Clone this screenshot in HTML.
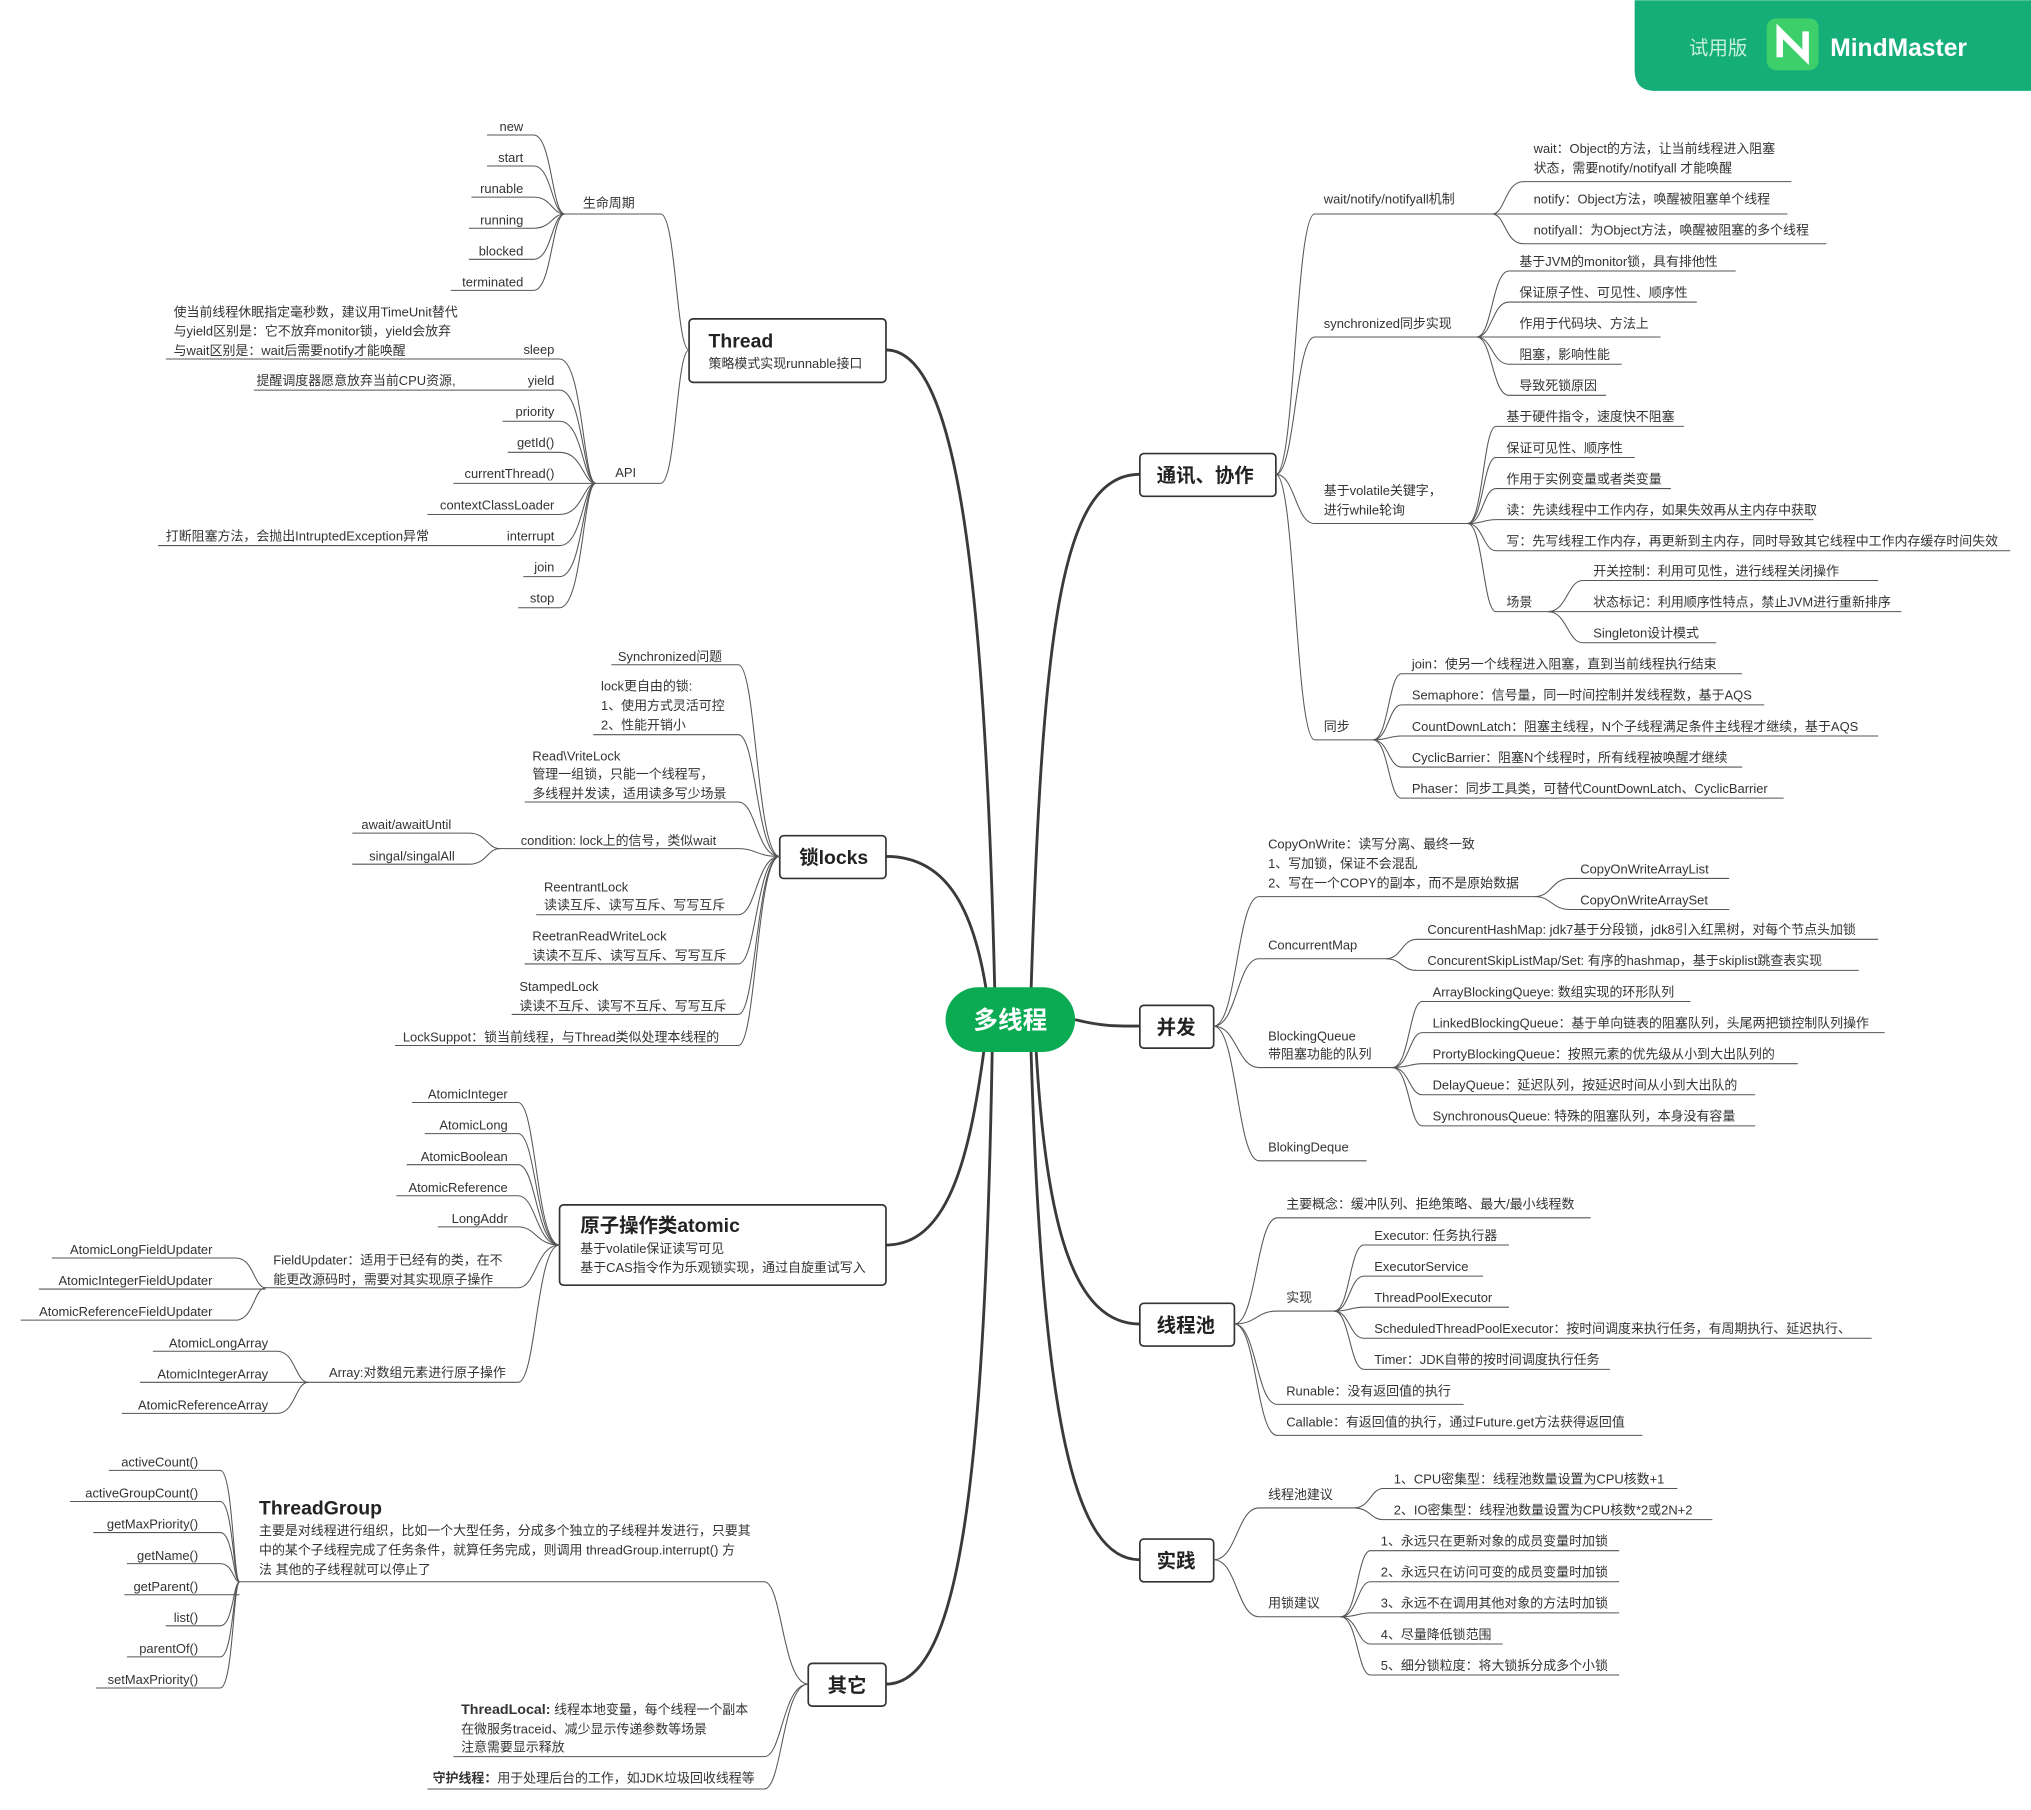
<!DOCTYPE html>
<html><head><meta charset="utf-8"><style>
html,body{margin:0;padding:0;background:#fff;}
svg{display:block;}
text{font-family:"Liberation Sans","Noto Sans CJK SC",sans-serif;font-size:10px;fill:#333;}
.l{fill:none;stroke:#555;stroke-width:0.8;}
.m{fill:none;stroke:#3a3a3a;stroke-width:2.2;}
.b{fill:#fff;stroke:#333;stroke-width:1.3;}
.t{font-size:15px;font-weight:bold;fill:#222;}
.e{text-anchor:end;}
</style></head><body>
<svg width="2031" height="1810" viewBox="0 0 1568 1397" xmlns="http://www.w3.org/2000/svg">
<!-- badge -->
<path d="M1262 0 H1568 V70 H1278 Q1262 70 1262 54 Z" fill="#16ae78"/>
<text x="1304" y="42" style="font-size:15px;fill:#c8efdf">试用版</text>
<rect x="1364" y="14" width="40" height="40" rx="7" fill="#3ccf6a"/>
<path d="M1374 44 V24 L1394 44 V24" fill="none" stroke="#fff" stroke-width="5"/>
<text x="1413" y="43" style="font-size:19px;font-weight:bold;fill:#fff">MindMaster</text>

<!-- main connectors -->
<path class="m" d="M768 765 C760 420 735 270 684 270"/>
<path class="m" d="M762 768 C752 700 730 661 684 661"/>
<path class="m" d="M760 808 C748 900 730 961 684 961"/>
<path class="m" d="M766 812 C760 1150 740 1300 684 1300"/>
<path class="m" d="M796 765 C805 480 820 366 880 366"/>
<path class="m" d="M830 787 C850 792 860 792 880 792"/>
<path class="m" d="M800 812 C808 950 830 1022 880 1022"/>
<path class="m" d="M796 812 C805 1100 830 1204 880 1204"/>

<rect x="730" y="762" width="100" height="50" rx="25" fill="#0aab52"/>
<text x="780" y="794" text-anchor="middle" style="font-size:19px;font-weight:bold;fill:#fff">多线程</text>

<!-- main boxes -->
<rect class="b" x="532" y="246" width="152" height="49" rx="3"/>
<text class="t" x="547" y="268">Thread</text><text x="547" y="284">策略模式实现runnable接口</text>
<rect class="b" x="602" y="645" width="82" height="33" rx="3"/>
<text class="t" x="617" y="667">锁locks</text>
<rect class="b" x="432" y="930" width="252" height="62" rx="3"/>
<text class="t" x="448" y="951">原子操作类atomic</text><text x="448" y="967">基于volatile保证读写可见</text><text x="448" y="982">基于CAS指令作为乐观锁实现，通过自旋重试写入</text>
<rect class="b" x="624" y="1284" width="60" height="33" rx="3"/>
<text class="t" x="639" y="1306">其它</text>
<rect class="b" x="880" y="350" width="105" height="33" rx="3"/>
<text class="t" x="893" y="372">通讯、协作</text>
<rect class="b" x="880" y="776" width="57" height="33" rx="3"/>
<text class="t" x="893" y="798">并发</text>
<rect class="b" x="880" y="1006" width="73" height="33" rx="3"/>
<text class="t" x="893" y="1028">线程池</text>
<rect class="b" x="880" y="1188" width="57" height="33" rx="3"/>
<text class="t" x="893" y="1210">实践</text>

<!-- Thread -->
<path class="l" d="M436 165 H510 C522 165 522 270 532 270"/>
<text x="450" y="160">生命周期</text>
<path class="l" d="M460 373 H510 C522 373 522 270 532 270"/>
<text x="475" y="368">API</text>
<g class="l">
<path d="M376 104 H412 C426 104 426 165 436 165"/><path d="M376 128 H412 C426 128 426 165 436 165"/>
<path d="M364 152 H412 C426 152 426 165 436 165"/><path d="M362 176 H412 C426 176 426 165 436 165"/>
<path d="M362 200 H412 C426 200 426 165 436 165"/><path d="M348 224 H412 C426 224 426 165 436 165"/>
<path d="M128 277 H432 C450 277 450 373 460 373"/><path d="M196 301 H432 C450 301 450 373 460 373"/>
<path d="M388 325 H432 C450 325 450 373 460 373"/><path d="M392 349 H432 C450 349 450 373 460 373"/>
<path d="M350 373 H460"/><path d="M330 397 H432 C450 397 450 373 460 373"/>
<path d="M122 421 H432 C450 421 450 373 460 373"/><path d="M404 445 H432 C450 445 450 373 460 373"/>
<path d="M400 469 H432 C450 469 450 373 460 373"/>
</g>
<text class="e" x="404" y="101">new</text><text class="e" x="404" y="125">start</text><text class="e" x="404" y="149">runable</text>
<text class="e" x="404" y="173">running</text><text class="e" x="404" y="197">blocked</text><text class="e" x="404" y="221">terminated</text>
<text x="134" y="244">使当前线程休眠指定毫秒数，建议用TimeUnit替代</text>
<text x="134" y="259">与yield区别是：它不放弃monitor锁，yield会放弃</text>
<text x="134" y="274">与wait区别是：wait后需要notify才能唤醒</text>
<text class="e" x="428" y="273">sleep</text>
<text x="198" y="297">提醒调度器愿意放弃当前CPU资源,</text><text class="e" x="428" y="297">yield</text>
<text class="e" x="428" y="321">priority</text><text class="e" x="428" y="345">getId()</text><text class="e" x="428" y="369">currentThread()</text>
<text class="e" x="428" y="393">contextClassLoader</text>
<text x="128" y="417">打断阻塞方法，会抛出IntruptedException异常</text><text class="e" x="428" y="417">interrupt</text>
<text class="e" x="428" y="441">join</text><text class="e" x="428" y="465">stop</text>

<!-- locks -->
<g class="l">
<path d="M472 513 H570 C584 513 584 661 602 661"/><path d="M458 567 H570 C584 567 584 661 602 661"/>
<path d="M405 619 H570 C584 619 584 661 602 661"/><path d="M386 655 H570 C584 655 584 661 602 661"/>
<path d="M414 706 H570 C584 706 584 661 602 661"/><path d="M405 744 H570 C584 744 584 661 602 661"/>
<path d="M395 783 H570 C584 783 584 661 602 661"/><path d="M305 807 H570 C584 807 584 661 602 661"/>
<path d="M272 643 H362 C376 643 376 655 386 655"/><path d="M272 667 H362 C376 667 376 655 386 655"/>
</g>
<text x="477" y="510">Synchronized问题</text>
<text x="464" y="533">lock更自由的锁:</text><text x="464" y="548">1、使用方式灵活可控</text><text x="464" y="563">2、性能开销小</text>
<text x="411" y="587">Read\VriteLock</text><text x="411" y="601">管理一组锁，只能一个线程写，</text><text x="411" y="616">多线程并发读，适用读多写少场景</text>
<text x="402" y="652">condition: lock上的信号，类似wait</text>
<text x="279" y="640">await/awaitUntil</text><text x="285" y="664">singal/singalAll</text>
<text x="420" y="688">ReentrantLock</text><text x="420" y="702">读读互斥、读写互斥、写写互斥</text>
<text x="411" y="726">ReetranReadWriteLock</text><text x="411" y="741">读读不互斥、读写互斥、写写互斥</text>
<text x="401" y="765">StampedLock</text><text x="401" y="780">读读不互斥、读写不互斥、写写互斥</text>
<text x="311" y="804">LockSuppot：锁当前线程，与Thread类似处理本线程的</text>

<!-- atomic -->
<g class="l">
<path d="M318 851 H400 C414 851 414 961 432 961"/><path d="M328 875 H400 C414 875 414 961 432 961"/>
<path d="M314 899 H400 C414 899 414 961 432 961"/><path d="M306 923 H400 C414 923 414 961 432 961"/>
<path d="M338 947 H400 C414 947 414 961 432 961"/><path d="M205 994 H400 C414 994 414 961 432 961"/>
<path d="M238 1067 H400 C414 1067 414 961 432 961"/>
<path d="M40 971 H182 C196 971 196 994 205 994"/><path d="M30 995 H205"/><path d="M16 1019 H182 C196 1019 196 994 205 994"/>
<path d="M118 1043 H214 C228 1043 228 1067 238 1067"/><path d="M108 1067 H238"/><path d="M94 1091 H214 C228 1091 228 1067 238 1067"/>
</g>
<text class="e" x="392" y="848">AtomicInteger</text><text class="e" x="392" y="872">AtomicLong</text><text class="e" x="392" y="896">AtomicBoolean</text>
<text class="e" x="392" y="920">AtomicReference</text><text class="e" x="392" y="944">LongAddr</text>
<text x="211" y="976">FieldUpdater：适用于已经有的类，在不</text><text x="211" y="991">能更改源码时，需要对其实现原子操作</text>
<text class="e" x="164" y="968">AtomicLongFieldUpdater</text><text class="e" x="164" y="992">AtomicIntegerFieldUpdater</text><text class="e" x="164" y="1016">AtomicReferenceFieldUpdater</text>
<text x="254" y="1063">Array:对数组元素进行原子操作</text>
<text class="e" x="207" y="1040">AtomicLongArray</text><text class="e" x="207" y="1064">AtomicIntegerArray</text><text class="e" x="207" y="1088">AtomicReferenceArray</text>

<!-- other -->
<g class="l">
<path d="M185 1221 H590 C604 1221 604 1300 624 1300"/>
<path d="M350 1356 H590 C604 1356 604 1300 624 1300"/>
<path d="M330 1381 H590 C604 1381 604 1300 624 1300"/>
<path d="M84 1135 H170 C180 1135 180 1221 185 1221"/><path d="M54 1159 H170 C180 1159 180 1221 185 1221"/>
<path d="M72 1183 H170 C180 1183 180 1221 185 1221"/><path d="M98 1207 H170 C180 1207 180 1221 185 1221"/>
<path d="M96 1231 H185"/><path d="M128 1255 H170 C180 1255 180 1221 185 1221"/>
<path d="M98 1279 H170 C180 1279 180 1221 185 1221"/><path d="M74 1303 H170 C180 1303 180 1221 185 1221"/>
</g>
<text class="e" x="153" y="1132">activeCount()</text><text class="e" x="153" y="1156">activeGroupCount()</text>
<text class="e" x="153" y="1180">getMaxPriority()</text><text class="e" x="153" y="1204">getName()</text>
<text class="e" x="153" y="1228">getParent()</text><text class="e" x="153" y="1252">list()</text>
<text class="e" x="153" y="1276">parentOf()</text><text class="e" x="153" y="1300">setMaxPriority()</text>
<text class="t" x="200" y="1169">ThreadGroup</text>
<text x="200" y="1185">主要是对线程进行组织，比如一个大型任务，分成多个独立的子线程并发进行，只要其</text>
<text x="200" y="1200">中的某个子线程完成了任务条件，就算任务完成，则调用 threadGroup.interrupt() 方</text>
<text x="200" y="1215">法 其他的子线程就可以停止了</text>
<text x="356" y="1323"><tspan style="font-weight:bold;font-size:11px">ThreadLocal:</tspan> 线程本地变量，每个线程一个副本</text>
<text x="356" y="1338">在微服务traceid、减少显示传递参数等场景</text>
<text x="356" y="1352">注意需要显示释放</text>
<text x="334" y="1376"><tspan style="font-weight:bold">守护线程：</tspan>用于处理后台的工作，如JDK垃圾回收线程等</text>

<!-- 通讯、协作 -->
<g class="l">
<path d="M985 366 C1000 366 1000 165 1015 165 H1152"/>
<path d="M985 366 C1000 366 1000 260 1015 260 H1140"/>
<path d="M985 366 C1000 366 1000 404 1015 404 H1133"/>
<path d="M985 366 C1000 366 1000 571 1015 571 H1060"/>
<path d="M1152 165 C1162 165 1162 140 1176 140 H1383"/><path d="M1152 165 H1380"/>
<path d="M1152 165 C1162 165 1162 188 1176 188 H1410"/>
<path d="M1140 260 C1152 260 1152 209 1165 209 H1340"/><path d="M1140 260 C1152 260 1152 233 1165 233 H1310"/>
<path d="M1140 260 H1282"/><path d="M1140 260 C1152 260 1152 281 1165 281 H1252"/>
<path d="M1140 260 C1152 260 1152 305 1165 305 H1240"/>
<path d="M1133 404 C1145 404 1145 329 1155 329 H1300"/><path d="M1133 404 C1145 404 1145 353 1155 353 H1262"/>
<path d="M1133 404 C1145 404 1145 377 1155 377 H1290"/><path d="M1133 404 C1145 404 1145 401 1155 401 H1400"/>
<path d="M1133 404 C1145 404 1145 425 1155 425 H1552"/><path d="M1133 404 C1145 404 1145 472 1155 472 H1195"/>
<path d="M1195 472 C1210 472 1210 448 1222 448 H1450"/><path d="M1195 472 H1468"/>
<path d="M1195 472 C1210 472 1210 496 1222 496 H1325"/>
<path d="M1060 571 C1072 571 1072 520 1082 520 H1345"/><path d="M1060 571 C1072 571 1072 544 1082 544 H1362"/>
<path d="M1060 571 C1072 571 1072 568 1082 568 H1450"/><path d="M1060 571 C1072 571 1072 592 1082 592 H1345"/>
<path d="M1060 571 C1072 571 1072 616 1082 616 H1377"/>
</g>
<text x="1022" y="157">wait/notify/notifyall机制</text>
<text x="1184" y="118">wait：Object的方法，让当前线程进入阻塞</text><text x="1184" y="133">状态，需要notify/notifyall 才能唤醒</text>
<text x="1184" y="157">notify：Object方法，唤醒被阻塞单个线程</text>
<text x="1184" y="181">notifyall：为Object方法，唤醒被阻塞的多个线程</text>
<text x="1022" y="253">synchronized同步实现</text>
<text x="1173" y="205">基于JVM的monitor锁，具有排他性</text><text x="1173" y="229">保证原子性、可见性、顺序性</text>
<text x="1173" y="253">作用于代码块、方法上</text><text x="1173" y="277">阻塞，影响性能</text><text x="1173" y="301">导致死锁原因</text>
<text x="1022" y="382">基于volatile关键字，</text><text x="1022" y="397">进行while轮询</text>
<text x="1163" y="325">基于硬件指令，速度快不阻塞</text><text x="1163" y="349">保证可见性、顺序性</text>
<text x="1163" y="373">作用于实例变量或者类变量</text><text x="1163" y="397">读：先读线程中工作内存，如果失效再从主内存中获取</text>
<text x="1163" y="421">写：先写线程工作内存，再更新到主内存，同时导致其它线程中工作内存缓存时间失效</text>
<text x="1163" y="468">场景</text>
<text x="1230" y="444">开关控制：利用可见性，进行线程关闭操作</text><text x="1230" y="468">状态标记：利用顺序性特点，禁止JVM进行重新排序</text>
<text x="1230" y="492">Singleton设计模式</text>
<text x="1022" y="564">同步</text>
<text x="1090" y="516">join：使另一个线程进入阻塞，直到当前线程执行结束</text>
<text x="1090" y="540">Semaphore：信号量，同一时间控制并发线程数，基于AQS</text>
<text x="1090" y="564">CountDownLatch：阻塞主线程，N个子线程满足条件主线程才继续，基于AQS</text>
<text x="1090" y="588">CyclicBarrier：阻塞N个线程时，所有线程被唤醒才继续</text>
<text x="1090" y="612">Phaser：同步工具类，可替代CountDownLatch、CyclicBarrier</text>

<!-- 并发 -->
<g class="l">
<path d="M937 792 C955 792 955 692 972 692 H1185"/><path d="M937 792 C955 792 955 740 972 740 H1070"/>
<path d="M937 792 C955 792 955 824 972 824 H1075"/><path d="M937 792 C955 792 955 896 972 896 H1055"/>
<path d="M1185 692 C1198 692 1198 678 1212 678 H1335"/><path d="M1185 692 C1198 692 1198 702 1212 702 H1335"/>
<path d="M1070 740 C1082 740 1082 725 1094 725 H1450"/><path d="M1070 740 C1082 740 1082 749 1094 749 H1435"/>
<path d="M1075 824 C1088 824 1088 773 1098 773 H1305"/><path d="M1075 824 C1088 824 1088 797 1098 797 H1455"/>
<path d="M1075 824 C1088 824 1088 821 1098 821 H1388"/><path d="M1075 824 C1088 824 1088 845 1098 845 H1355"/>
<path d="M1075 824 C1088 824 1088 869 1098 869 H1355"/>
</g>
<text x="979" y="655">CopyOnWrite：读写分离、最终一致</text><text x="979" y="670">1、写加锁，保证不会混乱</text>
<text x="979" y="685">2、写在一个COPY的副本，而不是原始数据</text>
<text x="1220" y="674">CopyOnWriteArrayList</text><text x="1220" y="698">CopyOnWriteArraySet</text>
<text x="979" y="733">ConcurrentMap</text>
<text x="1102" y="721">ConcurentHashMap: jdk7基于分段锁，jdk8引入红黑树，对每个节点头加锁</text>
<text x="1102" y="745">ConcurentSkipListMap/Set:  有序的hashmap，基于skiplist跳查表实现</text>
<text x="979" y="803">BlockingQueue</text><text x="979" y="817">带阻塞功能的队列</text>
<text x="1106" y="769">ArrayBlockingQueye: 数组实现的环形队列</text>
<text x="1106" y="793">LinkedBlockingQueue：基于单向链表的阻塞队列，头尾两把锁控制队列操作</text>
<text x="1106" y="817">PrortyBlockingQueue：按照元素的优先级从小到大出队列的</text>
<text x="1106" y="841">DelayQueue：延迟队列，按延迟时间从小到大出队的</text>
<text x="1106" y="865">SynchronousQueue: 特殊的阻塞队列，本身没有容量</text>
<text x="979" y="889">BlokingDeque</text>

<!-- 线程池 -->
<g class="l">
<path d="M953 1022 C970 1022 970 940 986 940 H1228"/><path d="M953 1022 C970 1022 970 1012 986 1012 H1030"/>
<path d="M953 1022 C970 1022 970 1084 986 1084 H1130"/><path d="M953 1022 C970 1022 970 1108 986 1108 H1268"/>
<path d="M1030 1012 C1042 1012 1042 961 1053 961 H1165"/><path d="M1030 1012 C1042 1012 1042 985 1053 985 H1145"/>
<path d="M1030 1012 C1042 1012 1042 1009 1053 1009 H1165"/><path d="M1030 1012 C1042 1012 1042 1033 1053 1033 H1445"/>
<path d="M1030 1012 C1042 1012 1042 1057 1053 1057 H1243"/>
</g>
<text x="993" y="933">主要概念：缓冲队列、拒绝策略、最大/最小线程数</text>
<text x="993" y="1005">实现</text>
<text x="1061" y="957">Executor: 任务执行器</text><text x="1061" y="981">ExecutorService</text><text x="1061" y="1005">ThreadPoolExecutor</text>
<text x="1061" y="1029">ScheduledThreadPoolExecutor：按时间调度来执行任务，有周期执行、延迟执行、</text>
<text x="1061" y="1053">Timer：JDK自带的按时间调度执行任务</text>
<text x="993" y="1077">Runable：没有返回值的执行</text>
<text x="993" y="1101">Callable：有返回值的执行，通过Future.get方法获得返回值</text>

<!-- 实践 -->
<g class="l">
<path d="M937 1204 C955 1204 955 1164 972 1164 H1045"/><path d="M937 1204 C955 1204 955 1248 972 1248 H1035"/>
<path d="M1045 1164 C1058 1164 1058 1149 1068 1149 H1295"/><path d="M1045 1164 C1058 1164 1058 1173 1068 1173 H1322"/>
<path d="M1035 1248 C1048 1248 1048 1197 1058 1197 H1250"/><path d="M1035 1248 C1048 1248 1048 1221 1058 1221 H1250"/>
<path d="M1035 1248 C1048 1248 1048 1245 1058 1245 H1250"/><path d="M1035 1248 C1048 1248 1048 1269 1058 1269 H1160"/>
<path d="M1035 1248 C1048 1248 1048 1293 1058 1293 H1250"/>
</g>
<text x="979" y="1157">线程池建议</text>
<text x="1076" y="1145">1、CPU密集型：线程池数量设置为CPU核数+1</text>
<text x="1076" y="1169">2、IO密集型：线程池数量设置为CPU核数*2或2N+2</text>
<text x="979" y="1241">用锁建议</text>
<text x="1066" y="1193">1、永远只在更新对象的成员变量时加锁</text><text x="1066" y="1217">2、永远只在访问可变的成员变量时加锁</text>
<text x="1066" y="1241">3、永远不在调用其他对象的方法时加锁</text><text x="1066" y="1265">4、尽量降低锁范围</text>
<text x="1066" y="1289">5、细分锁粒度：将大锁拆分成多个小锁</text>
</svg>
</body></html>
